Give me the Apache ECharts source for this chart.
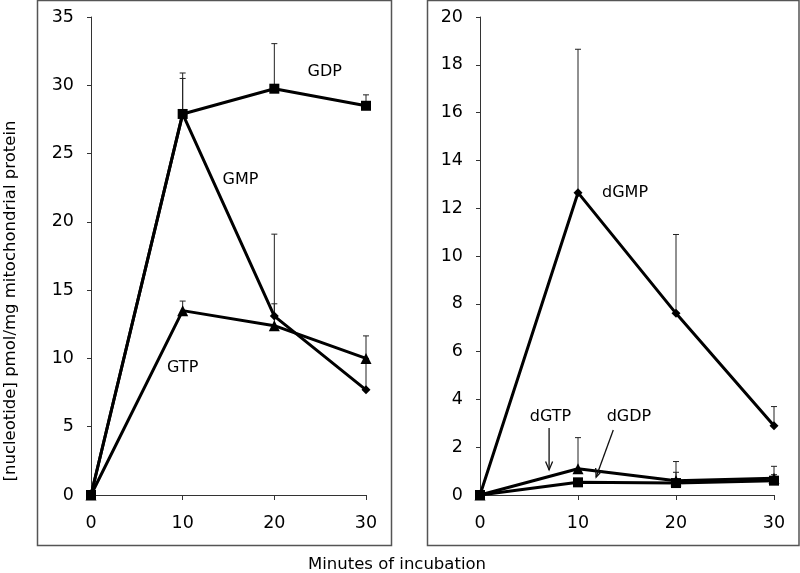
<!DOCTYPE html>
<html><head><meta charset="utf-8">
<script src="https://cdn.jsdelivr.net/npm/echarts@6/dist/echarts.min.js"></script>
<style>html,body{margin:0;padding:0;background:#fff}#c{width:800px;height:573px}</style>
</head><body><div id="c"></div>
<script>
// ---- data ----
const minutes = [0, 10, 20, 30];
// left panel (guanine ribonucleotides)
const GDP = [0, 27.9, 29.75, 28.5];
const GDP_errTop = [null, 30.9, 33.05, 29.3];
const GMP = [0, 27.9, 13.1, 7.7];
const GMP_errTop = [null, 30.5, 19.1, 10.0];
const GTP = [0, 13.5, 12.4, 10.0];
const GTP_errTop = [null, 14.2, 14.0, 11.65];
// right panel (deoxy)
const dGMP = [0, 12.65, 7.6, 2.9];
const dGMP_errTop = [null, 18.65, 10.9, 3.7];
const dGTP = [0, 1.1, 0.6, 0.7];
const dGTP_errTop = [null, 2.4, 1.4, 1.2];
const dGDP = [0, 0.53, 0.5, 0.6];
const dGDP_errTop = [null, null, 0.95, 0.85];
// annotation labels [name, x, y] in data units
const leftLabels = [['GDP', 25.5, 31.0], ['GMP', 16.3, 23.1], ['GTP', 10.0, 9.3]];
const rightLabels = [['dGMP', 14.8, 12.64], ['dGTP', 7.2, 3.26], ['dGDP', 15.2, 3.26]];
// arrows [x1, y1, x2, y2]
const rightArrows = [[7.05, 2.8, 7.05, 1.05], [13.6, 2.72, 11.85, 0.75]];
const yTicksLeft = [0, 5, 10, 15, 20, 25, 30, 35];
const yTicksRight = [0, 2, 4, 6, 8, 10, 12, 14, 16, 18, 20];

const FONT = 'DejaVu Sans';
const pairs = (ys) => minutes.map((x, i) => [x, ys[i]]);
const errs = (ys, tops) => minutes.map((x, i) => [x, ys[i], tops[i]]).filter(d => d[2] != null);

function lineSeries(name, ys, idx, symbol, size) {
  return {
    type: 'line', name, xAxisIndex: idx, yAxisIndex: idx, data: pairs(ys),
    symbol, symbolSize: size, showSymbol: true,
    lineStyle: { color: '#000', width: 3 },
    itemStyle: { color: '#000' }, z: 3, animation: false
  };
}
function errSeries(ys, tops, idx) {
  return {
    type: 'custom', xAxisIndex: idx, yAxisIndex: idx, data: errs(ys, tops), z: 2,
    renderItem: (params, api) => {
      const p1 = api.coord([api.value(0), api.value(1)]);
      const p2 = api.coord([api.value(0), api.value(2)]);
      const st = { stroke: '#222', lineWidth: 1 };
      return { type: 'group', children: [
        { type: 'line', shape: { x1: p1[0], y1: p1[1], x2: p2[0], y2: p2[1] }, style: st },
        { type: 'line', shape: { x1: p2[0] - 3, y1: p2[1], x2: p2[0] + 3, y2: p2[1] }, style: st }
      ]};
    }
  };
}
function labelSeries(labels, idx) {
  return {
    type: 'scatter', xAxisIndex: idx, yAxisIndex: idx, symbolSize: 0, z: 5,
    itemStyle: { opacity: 1 },
    data: labels.map(l => ({ name: l[0], value: [l[1], l[2]] })),
    label: { show: true, position: 'inside', formatter: p => p.name, opacity: 1,
      fontFamily: FONT, fontSize: 16, color: '#000' },
    silent: true
  };
}
function arrowSeries(arrows, idx) {
  return {
    type: 'custom', xAxisIndex: idx, yAxisIndex: idx, data: arrows, z: 4,
    renderItem: (params, api) => {
      const a = api.coord([api.value(0), api.value(1)]);
      const b = api.coord([api.value(2), api.value(3)]);
      const ang = Math.atan2(b[1] - a[1], b[0] - a[0]);
      const L = 9, h = 0.4;
      const st = { stroke: '#111', lineWidth: 1.3, fill: null };
      const h1 = [b[0] - L * Math.cos(ang - h), b[1] - L * Math.sin(ang - h)];
      const h2 = [b[0] - L * Math.cos(ang + h), b[1] - L * Math.sin(ang + h)];
      return { type: 'group', children: [
        { type: 'line', shape: { x1: a[0], y1: a[1], x2: b[0], y2: b[1] }, style: st },
        { type: 'polyline', shape: { points: [h1, b, h2] }, style: st }
      ]};
    }
  };
}

const axisLineStyle = { color: '#333', width: 1 };
function xAxis(idx) {
  return {
    type: 'value', gridIndex: idx, min: 0, max: 30, interval: 10,
    axisLine: { show: true, onZero: false, lineStyle: axisLineStyle },
    axisTick: { show: true, length: 5, lineStyle: axisLineStyle },
    axisLabel: { fontFamily: FONT, fontSize: 17.5, color: '#000', margin: 19 },
    splitLine: { show: false }
  };
}
function yAxis(idx, max, interval, ticks) {
  return {
    type: 'value', gridIndex: idx, min: 0, max, interval,
    axisLine: { show: true, lineStyle: axisLineStyle },
    axisTick: { show: true, length: 4, lineStyle: axisLineStyle },
    axisLabel: { fontFamily: FONT, fontSize: 17.5, color: '#000', margin: 17,
      formatter: v => ticks.includes(v) ? String(v) : '' },
    splitLine: { show: false }
  };
}

const chart = echarts.init(document.getElementById('c'), null, { renderer: 'canvas' });
chart.setOption({
  animation: false,
  backgroundColor: '#fff',
  grid: [
    { left: 91, top: 17, width: 275, height: 478 },
    { left: 480, top: 17, width: 294, height: 478 }
  ],
  xAxis: [xAxis(0), xAxis(1)],
  yAxis: [yAxis(0, 35, 5, yTicksLeft), yAxis(1, 20, 2, yTicksRight)],
  graphic: [
    { type: 'rect', shape: { x: 37.5, y: 0.5, width: 354, height: 545 },
      style: { fill: null, stroke: '#555', lineWidth: 1.5 }, silent: true },
    { type: 'rect', shape: { x: 427.5, y: 0.5, width: 371.5, height: 545 },
      style: { fill: null, stroke: '#555', lineWidth: 1.5 }, silent: true },
    { type: 'text', x: 11, y: 301, rotation: Math.PI / 2,
      style: { text: '[nucleotide] pmol/mg mitochondrial protein', fontFamily: FONT,
        fontSize: 16.5, fill: '#000', align: 'center', verticalAlign: 'middle' } },
    { type: 'text', x: 397, y: 565,
      style: { text: 'Minutes of incubation', fontFamily: FONT, fontSize: 16.5,
        fill: '#000', align: 'center', verticalAlign: 'middle' } }
  ],
  series: [
    errSeries(GDP, GDP_errTop, 0),
    errSeries(GMP, GMP_errTop, 0),
    errSeries(GTP, GTP_errTop, 0),
    lineSeries('GTP', GTP, 0, 'triangle', 11),
    lineSeries('GMP', GMP, 0, 'diamond', 9),
    lineSeries('GDP', GDP, 0, 'rect', 10),
    labelSeries(leftLabels, 0),
    errSeries(dGMP, dGMP_errTop, 1),
    errSeries(dGTP, dGTP_errTop, 1),
    errSeries(dGDP, dGDP_errTop, 1),
    lineSeries('dGMP', dGMP, 1, 'diamond', 9),
    lineSeries('dGTP', dGTP, 1, 'triangle', 11),
    lineSeries('dGDP', dGDP, 1, 'rect', 10),
    labelSeries(rightLabels, 1),
    arrowSeries(rightArrows, 1)
  ]
});
</script></body></html>
